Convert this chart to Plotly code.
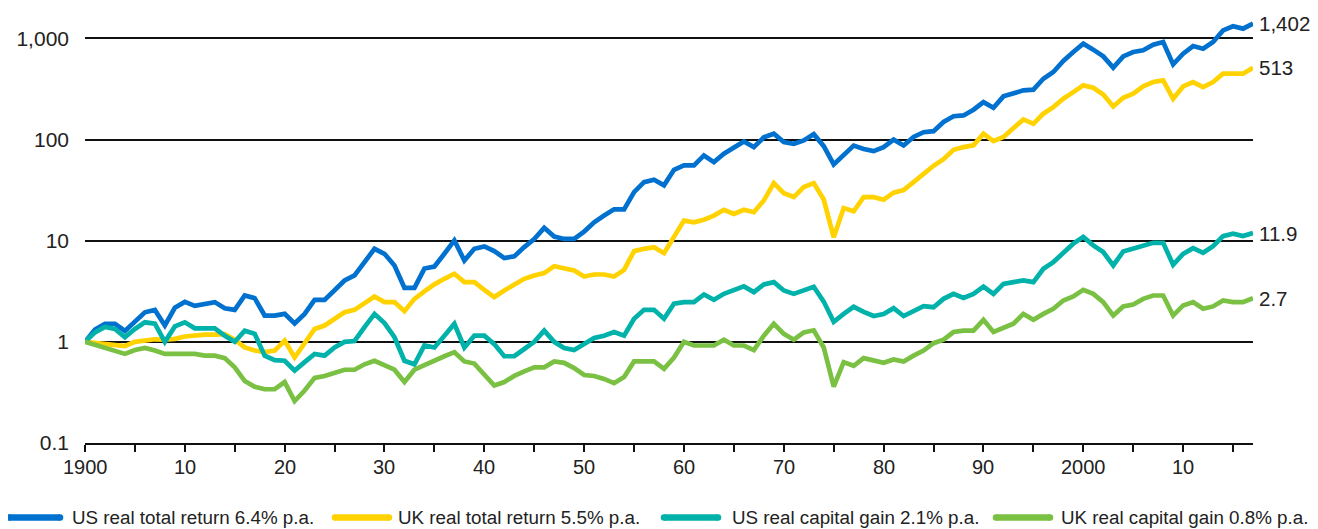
import math
import plotly.graph_objects as go

years = list(range(1900, 2018))

us_total = [
    1.0, 1.32, 1.51, 1.51, 1.28, 1.6, 1.96, 2.07, 1.45, 2.17,
    2.48, 2.27, 2.36, 2.47, 2.15, 2.07, 2.87, 2.70, 1.82, 1.82,
    1.89, 1.52, 1.89, 2.60, 2.60, 3.22, 4.04, 4.53, 6.14, 8.31,
    7.41, 5.69, 3.42, 3.42, 5.3, 5.55, 7.43, 10.05, 6.37, 8.31,
    8.77, 7.88, 6.73, 6.99, 8.64, 10.4, 13.4, 11.0, 10.4, 10.4,
    12.3, 15.2, 17.7, 20.4, 20.4, 30.2, 37.9, 40.0, 35.2, 50.2,
    55.4, 55.4, 69.6, 59.8, 72.3, 84.2, 95.8, 84.2, 105, 114,
    94.4, 90.8, 98, 113, 86, 56.8, 69.7, 87, 80.5, 76.8,
    84.1, 99.7, 87.4, 106, 118, 121, 149, 170, 173, 197,
    234, 206, 267, 284, 306, 311, 399, 465, 597, 733,
    886, 773, 664, 513, 664, 733, 761, 865, 920, 553,
    705, 839, 790, 920, 1199, 1315, 1247, 1402,
]

uk_total = [
    1.0, 0.98, 0.95, 0.93, 0.91, 1.0, 1.04, 1.06, 1.05, 1.07,
    1.13, 1.17, 1.18, 1.18, 1.19, 1.05, 0.88, 0.82, 0.79, 0.82,
    1.03, 0.70, 0.95, 1.34, 1.45, 1.69, 1.96, 2.07, 2.38, 2.81,
    2.47, 2.47, 2.01, 2.66, 3.15, 3.7, 4.20, 4.71, 3.89, 3.89,
    3.27, 2.77, 3.22, 3.69, 4.20, 4.53, 4.78, 5.60, 5.39, 5.07,
    4.42, 4.63, 4.63, 4.42, 5.15, 7.88, 8.31, 8.63, 7.53, 10.7,
    15.8, 15.2, 16.1, 17.7, 20.2, 18.4, 20.2, 19.1, 25.0, 37.1,
    29.5, 27.0, 33.9, 37.1, 25.5, 10.8, 21.0, 19.5, 26.9, 26.9,
    25.4, 29.8, 31.6, 37.9, 46, 55, 64, 79.2, 84.2, 87.5,
    114, 96.5, 106, 128, 158, 143, 180, 209, 253, 294,
    343, 325, 279, 212, 259, 284, 335, 370, 384, 253,
    335, 370, 330, 370, 447, 447, 447, 513,
]

us_capital = [
    1.0, 1.24, 1.40, 1.34, 1.11, 1.34, 1.56, 1.51, 1.0, 1.42,
    1.56, 1.36, 1.36, 1.36, 1.15, 1.0, 1.29, 1.2, 0.73, 0.66,
    0.65, 0.52, 0.63, 0.76, 0.73, 0.88, 1.0, 1.02, 1.40, 1.89,
    1.53, 1.11, 0.65, 0.60, 0.92, 0.88, 1.15, 1.51, 0.88, 1.15,
    1.15, 0.95, 0.72, 0.72, 0.85, 1.0, 1.29, 1.0, 0.87, 0.83,
    0.95, 1.09, 1.15, 1.25, 1.15, 1.69, 2.07, 2.07, 1.69, 2.38,
    2.47, 2.47, 2.94, 2.60, 2.98, 3.27, 3.53, 3.10, 3.69, 3.89,
    3.22, 2.98, 3.27, 3.5, 2.5, 1.58, 1.89, 2.22, 1.98, 1.80,
    1.88, 2.15, 1.80, 1.99, 2.25, 2.2, 2.66, 2.98, 2.72, 2.98,
    3.52, 2.98, 3.74, 3.89, 4.04, 3.89, 5.27, 6.14, 7.71, 9.34,
    10.9, 8.98, 7.71, 5.69, 7.82, 8.31, 8.83, 9.52, 9.52, 5.77,
    7.41, 8.44, 7.59, 8.83, 11.1, 11.7, 11.1, 11.9,
]

uk_capital = [
    1.0, 0.94, 0.87, 0.82, 0.76, 0.83, 0.87, 0.82, 0.76, 0.76,
    0.76, 0.76, 0.73, 0.73, 0.69, 0.56, 0.41, 0.36, 0.34, 0.34,
    0.40, 0.26, 0.33, 0.44, 0.46, 0.50, 0.53, 0.53, 0.60, 0.65,
    0.58, 0.53, 0.40, 0.53, 0.59, 0.66, 0.72, 0.79, 0.64, 0.61,
    0.48, 0.37, 0.40, 0.46, 0.51, 0.56, 0.56, 0.64, 0.62, 0.55,
    0.47, 0.46, 0.43, 0.39, 0.45, 0.64, 0.64, 0.64, 0.54, 0.70,
    1.0, 0.92, 0.92, 0.92, 1.05, 0.92, 0.92, 0.83, 1.15, 1.51,
    1.20, 1.05, 1.24, 1.30, 0.88, 0.36, 0.63, 0.58, 0.69, 0.66,
    0.62, 0.67, 0.64, 0.73, 0.82, 0.97, 1.05, 1.25, 1.29, 1.29,
    1.65, 1.25, 1.37, 1.51, 1.89, 1.65, 1.89, 2.12, 2.56, 2.81,
    3.27, 2.98, 2.47, 1.82, 2.24, 2.34, 2.66, 2.87, 2.87, 1.82,
    2.29, 2.47, 2.12, 2.24, 2.56, 2.47, 2.47, 2.7,
]

series_names = [
    "US real total return 6.4% p.a.",
    "UK real total return 5.5% p.a.",
    "US real capital gain 2.1% p.a.",
    "UK real capital gain 0.8% p.a.",
]
series_values = [us_total, uk_total, us_capital, uk_capital]
series_colors = ["#0071CE", "#FFD200", "#00B2A9", "#7AC143"]
end_labels = ["1,402", "513", "11.9", "2.7"]

y_tickvals = [0.1, 1, 10, 100, 1000]
y_ticktext = ["0.1", "1", "10", "100", "1,000"]
x_tickvals = list(range(1900, 2016, 5))
x_label_map = {1900: "1900", 1910: "10", 1920: "20", 1930: "30", 1940: "40",
               1950: "50", 1960: "60", 1970: "70", 1980: "80", 1990: "90",
               2000: "2000", 2010: "10"}
x_ticktext = [x_label_map.get(v, "") for v in x_tickvals]

font_family = "Liberation Sans, Arial, sans-serif"
text_color = "#222222"

# the page body has an 8px margin, so the figure is made 8px smaller
PAGE_OFF = 8
W, H = 1318 - PAGE_OFF, 529 - PAGE_OFF
ML, MR, MT, MB = 85 - PAGE_OFF, 65, 8 - PAGE_OFF, 86
PW, PH = W - ML - MR, H - MT - MB


def px_to_paper_x(px):
    return (px - PAGE_OFF - ML) / PW


def px_to_paper_y(py):
    return (H - MB - (py - PAGE_OFF)) / PH


fig = go.Figure()
for name, vals, col in zip(series_names, series_values, series_colors):
    fig.add_trace(go.Scatter(
        x=years, y=vals, mode="lines", name=name,
        line=dict(color=col, width=4.7),
        showlegend=False,
    ))

for vals, lab in zip(series_values, end_labels):
    fig.add_annotation(
        x=years[-1], y=math.log10(vals[-1]), text=lab, showarrow=False,
        xanchor="left", yanchor="middle", xshift=4,
        font=dict(family=font_family, size=20.5, color=text_color),
    )

# x tick labels drawn as annotations placed on the year axis
for v, t in zip(x_tickvals, x_ticktext):
    if t:
        fig.add_annotation(
            x=v, xref="x", y=px_to_paper_y(467), yref="paper", text=t,
            showarrow=False, xanchor="center", yanchor="middle",
            font=dict(family=font_family, size=20, color=text_color),
        )

# legend (drawn as swatches + labels below the plot)
legend_swatch_px = [(9, 60), (335, 389), (664, 718), (996, 1050)]
legend_text_px = [70, 396, 730, 1059]
legend_y_px = 517.5
for (sx0, sx1), tx, name, col in zip(legend_swatch_px, legend_text_px,
                                     series_names, series_colors):
    yy = px_to_paper_y(legend_y_px)
    fig.add_shape(
        type="line", xref="paper", yref="paper",
        x0=px_to_paper_x(sx0), x1=px_to_paper_x(sx1), y0=yy, y1=yy,
        line=dict(color=col, width=6.5),
    )
    for cx in (sx0, sx1):
        fig.add_shape(
            type="circle", xref="paper", yref="paper",
            xsizemode="pixel", ysizemode="pixel",
            xanchor=px_to_paper_x(cx), yanchor=yy,
            x0=-3.25, x1=3.25, y0=-3.25, y1=3.25,
            fillcolor=col, line=dict(width=0),
        )
    fig.add_annotation(
        xref="paper", yref="paper", x=px_to_paper_x(tx), y=yy,
        text=name, showarrow=False, xanchor="left", yanchor="middle",
        font=dict(family=font_family, size=18.8, color=text_color),
    )

fig.update_layout(
    width=W, height=H,
    margin=dict(l=ML, r=MR, t=MT, b=MB, autoexpand=False),
    plot_bgcolor="white", paper_bgcolor="white",
    font=dict(family=font_family, size=20, color=text_color),
    showlegend=False,
    xaxis=dict(
        range=[1900, 2017], showgrid=False, zeroline=False,
        showline=True, linecolor="#111", linewidth=1.5,
        ticks="outside", ticklen=7, tickwidth=1.5, tickcolor="#111",
        tickvals=x_tickvals, showticklabels=False,
    ),
    yaxis=dict(
        type="log", range=[-1, 3.3], showgrid=True, gridcolor="#111",
        gridwidth=1.5, zeroline=False, showline=False, ticks="",
        tickvals=y_tickvals, ticktext=y_ticktext, ticklabelstandoff=15,
        tickfont=dict(family=font_family, size=21, color=text_color),
    ),
)

fig.write_html("out.html")
